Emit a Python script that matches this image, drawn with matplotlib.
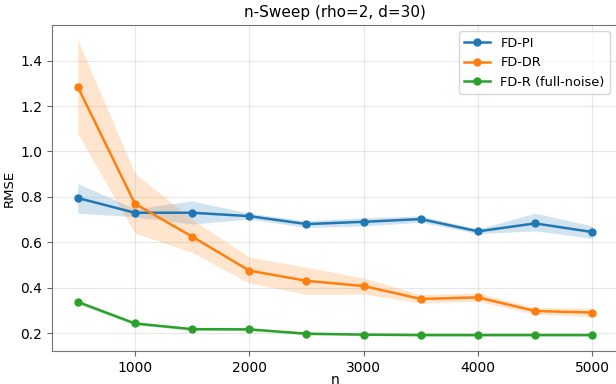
import matplotlib
matplotlib.use("Agg")
import matplotlib.pyplot as plt
import numpy as np

# n values swept
n_values = [500, 1000, 1500, 2000, 2500, 3000, 3500, 4000, 4500, 5000]

# FD-PI
pi_mean = [0.795, 0.730, 0.730, 0.715, 0.680, 0.690, 0.702, 0.648, 0.683, 0.645]
pi_lo = [0.728, 0.712, 0.680, 0.702, 0.665, 0.672, 0.688, 0.638, 0.650, 0.617]
pi_hi = [0.858, 0.748, 0.782, 0.728, 0.695, 0.708, 0.716, 0.658, 0.728, 0.672]

# FD-DR
dr_mean = [1.285, 0.770, 0.625, 0.475, 0.430, 0.407, 0.350, 0.357, 0.297, 0.290]
dr_lo = [1.080, 0.640, 0.555, 0.420, 0.370, 0.372, 0.332, 0.340, 0.282, 0.272]
dr_hi = [1.492, 0.905, 0.700, 0.535, 0.490, 0.442, 0.370, 0.376, 0.312, 0.310]

# FD-R (full-noise)
r_mean = [0.337, 0.242, 0.217, 0.216, 0.197, 0.193, 0.191, 0.191, 0.191, 0.191]
r_lo = [0.328, 0.235, 0.211, 0.210, 0.191, 0.188, 0.186, 0.186, 0.186, 0.186]
r_hi = [0.346, 0.250, 0.224, 0.222, 0.203, 0.198, 0.196, 0.196, 0.196, 0.196]

series = [
    ("FD-PI", pi_mean, pi_lo, pi_hi, "#1f77b4"),
    ("FD-DR", dr_mean, dr_lo, dr_hi, "#ff7f0e"),
    ("FD-R (full-noise)", r_mean, r_lo, r_hi, "#2ca02c"),
]

fig = plt.figure(figsize=(6.16, 3.84), dpi=100)
ax = fig.add_axes([52 / 616, 33 / 384, 566 / 616, 326 / 384])

for label, mean, lo, hi, color in series:
    ax.fill_between(n_values, lo, hi, color=color, alpha=0.2, linewidth=0)
    ax.plot(n_values, mean, '-o', color=color, linewidth=1.8, markersize=5, label=label)

ax.set_title('n-Sweep (rho=2, d=30)', fontsize=11)
ax.set_xlabel('n', fontsize=10, labelpad=-1.5)
ax.set_ylabel('RMSE', fontsize=9.5, labelpad=3)
ax.set_xticks([1000, 2000, 3000, 4000, 5000])
ax.tick_params(labelsize=10, color='0.4')
ax.grid(True, alpha=0.3)
for s in ax.spines.values():
    s.set_color('0.45')
ax.legend(loc='upper right', fontsize=9.3, bbox_to_anchor=(0.997, 1.0))

plt.savefig('out.png', dpi=100)
plt.close()
